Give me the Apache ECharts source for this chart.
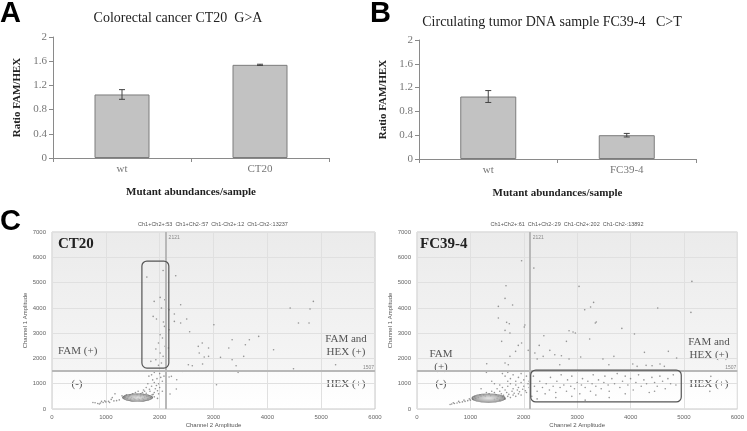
<!DOCTYPE html>
<html>
<head>
<meta charset="utf-8">
<script src="https://cdn.jsdelivr.net/npm/echarts@6/dist/echarts.min.js"></script>
<style>html,body{margin:0;padding:0;background:#fff}#c{width:747px;height:431px}</style>
</head>
<body>
<div id="c"></div>
<script>
// ---------- data ----------
const catsA = ['wt', 'CT20'];
const valsA = [1.05, 1.54];
const errA = [0.08, 0.01];
const catsB = ['wt', 'FC39-4'];
const valsB = [1.05, 0.40];
const errB = [0.10, 0.03];

const headerCT20 = 'Ch1+Ch2+:53  Ch1+Ch2-:57  Ch1-Ch2+:12  Ch1-Ch2-:13237';
const headerFC = 'Ch1+Ch2+:61  Ch1+Ch2-:29  Ch1-Ch2+:202  Ch1-Ch2-:13892';
const thresholdX = 2121;
const thresholdY = 1507;

// droplets [Channel 2 amplitude, Channel 1 amplitude]
const dropsCT20 = [
[1762,5217],[2064,5480],[2298,5270],[2009,4414],[1898,4256],[2095,4321],[2033,3992],[2175,3926],[2390,4124],
[2273,3755],[1879,3663],[1941,3557],[2070,3439],[2273,3465],[2502,3557],[2390,3400],[2089,3267],[2175,3136],
[2557,3057],[2009,2938],[2052,2806],[2113,2740],[1978,2609],[2101,2477],[1929,2372],[2163,2411],[2009,2213],
[2064,2082],[1929,1950],[2033,1818],[1836,1884],[2113,1752],[1978,1726],[3007,3333],[2717,2477],[2791,2609],
[2908,2411],[2735,2213],[2828,2055],[2908,2082],[2533,1752],[2606,1713],[2797,1779],[3130,2042],[3284,2411],
[3346,2740],[3592,2543],[3666,2740],[3839,2872],[3561,2082],[3346,1950],[3420,1713],[3457,1450],[4116,2345],
[4424,3992],[4578,3400],[4775,3400],[4793,3953],[4855,4256],[4486,1594],[5268,1752],[2175,1265],[2218,1291],
[2317,1159],[2421,1489],[2193,593],[2310,790],[3056,962],
[1800,1300],[1850,1350],[1900,1450],[1950,1200],[2000,1400],[2050,1100],[2080,1300],[1980,1000],[1900,1050],
[1850,900],[1920,800],[2000,850],[1780,1000],[1750,850],[1700,750],[1820,700],[1900,650],[2050,700],[1980,600],
[1680,650],[1600,700],[1650,600],[1700,550],[1750,620],[1550,650],[1500,600],[1450,560],[1380,560],[1300,520],
[1350,500],[1420,480],[1480,450],[1520,420],[1560,470],[1600,430],[1640,480],[1680,420],[1720,460],[1760,500],
[1800,520],[1830,450],[1860,560],[1780,400],[1700,380],[1620,370],[1540,380],[1460,390],[1400,420],[1340,440],
[1250,360],[1200,330],[1150,320],[1100,380],[1050,300],[1000,280],[950,260],[900,240],[850,220],[800,250],
[760,260],[880,200],[980,320],[1070,260],[1120,450],[1170,600],[920,300],[1870,1150],[1940,930],[2020,1250],
[1720,700],[1810,780],[1880,580],[1960,720],[1650,520],[1580,560],[1900,480],[1960,420],[1440,520],[1360,460]
];
const dropsFC = [
[1959,5863],[2189,5573],[1667,4875],[1649,4374],[1791,4111],[1524,4058],[1524,3597],[1679,3426],[1729,3373],
[2021,3320],[2009,3241],[1649,3109],[1741,3004],[3035,4848],[3141,3926],[3252,4032],[3308,4216],[3358,3439],
[3340,3399],[3837,3188],[4073,2964],[4509,3992],[5131,3821],[5149,5046],[2923,3043],[2966,3004],[2848,3096],
[2799,2675],[3234,2767],[2376,2898],[2289,2516],[2208,2213],[2251,1976],[2363,2082],[2488,2319],[2581,2148],
[2705,2108],[2848,1976],[2674,1752],[3066,2055],[3483,1976],[3688,2082],[3594,1752],[4260,2240],[4042,1779],
[4123,1686],[4291,1726],[4403,1713],[4552,1779],[4633,1686],[4708,2279],[4863,2016],[1847,2279],[1741,2082],
[1649,1818],[1710,1752],[1306,1792],[1586,2675],[2083,2319],[1897,2516],[1959,2609],
[2200,900],[2250,700],[2300,1100],[2350,850],[2400,600],[2420,1000],[2480,750],[2500,1250],[2550,900],[2600,650],
[2620,1100],[2680,850],[2700,1350],[2750,950],[2800,700],[2820,1150],[2880,900],[2900,1300],[2950,800],[3000,1050],
[3050,600],[3080,950],[3100,1200],[3150,850],[3200,1100],[3250,700],[3280,1000],[3300,1350],[3350,900],[3400,1150],
[3450,800],[3500,1050],[3520,1300],[3580,950],[3600,700],[3650,1200],[3700,1000],[3750,1400],[3800,850],[3850,1100],
[3900,1300],[3950,950],[4000,1200],[4050,750],[4100,1050],[4150,1350],[4200,900],[4250,1150],[4300,1000],[4350,650],
[4400,1250],[4450,1050],[4500,900],[4550,1300],[4600,1100],[4650,800],[4700,1200],[4750,1000],[4800,1350],[4850,950],
[2150,500],[2250,400],[2600,450],[3350,550],[3900,600],[4450,700],[2180,1300],[2900,500],[3600,450],[3150,350],
[5485,698],[5504,1291],
[1600,1400],[1650,1300],[1700,1450],[1750,1200],[1800,1350],[1850,1100],[1900,1250],[1950,1400],[2000,1150],
[2050,1300],[2080,1000],[2000,900],[1950,1050],[1900,850],[1850,950],[1800,800],[1750,1000],[1700,900],[1650,750],
[1600,850],[1550,700],[1500,800],[1450,650],[1400,700],[1350,600],[1300,650],[1250,550],[1200,500],[1150,450],
[1100,420],[1050,380],[1000,350],[950,330],[900,300],[850,280],[800,260],[750,240],[700,220],[650,200],[620,180],
[680,250],[780,300],[880,350],[980,400],[1080,480],[1180,560],[1280,500],[1380,520],[1480,560],[1580,600],
[1680,650],[1780,700],[1880,750],[1980,780],[2050,650],[1900,600],[1800,550],[1700,500],[1600,480],[1500,420],
[1450,380],[1550,350],[1650,400],[1750,450],[1850,500],[1950,550],[2100,850],[2100,1100],[1450,1000],[1300,1450],
[1400,1100],[1700,1100],[1550,950],[1200,800],[2030,720],[1920,680],[1820,620],[1720,580],[1620,540],[1520,500]
];
// dense negative-droplet cluster centres
const clusterCT20 = [[1590, 450]];
const clusterFC = [[1340, 430]];
// highlighted boxes [x1, y1, x2, y2]
const boxCT20 = [[1670, 1620, 2170, 5850]];
const boxFC = [[2130, 280, 4950, 1540]];

// ---------- helpers ----------
const serif = 'Liberation Serif';
const sans = 'Liberation Sans';

function barX(gi, cats) {
  return {
    gridIndex: gi, type: 'category', data: cats,
    axisLine: {lineStyle: {color: '#8a8a8a'}},
    axisTick: {show: true, length: 4, lineStyle: {color: '#8a8a8a'}},
    axisLabel: {fontFamily: serif, fontSize: 11, color: '#777', margin: 6},
    name: 'Mutant abundances/sample', nameLocation: 'middle', nameGap: 29,
    nameTextStyle: {fontFamily: serif, fontWeight: 'bold', fontSize: 11, color: '#222'}
  };
}
function barY(gi) {
  return {
    gridIndex: gi, type: 'value', min: 0, max: 2, interval: 0.4,
    axisLine: {show: true, lineStyle: {color: '#8a8a8a'}},
    axisTick: {show: true, length: 4, lineStyle: {color: '#8a8a8a'}},
    splitLine: {show: false},
    axisLabel: {fontFamily: serif, fontSize: 11, color: '#777', margin: 6},
    name: 'Ratio FAM/HEX', nameLocation: 'middle', nameGap: 30,
    nameTextStyle: {fontFamily: serif, fontWeight: 'bold', fontSize: 11, color: '#222'}
  };
}
function scX(gi) {
  return {
    gridIndex: gi, type: 'value', min: 0, max: 6000, interval: 1000,
    axisLine: {show: false}, axisTick: {show: false},
    splitLine: {show: true, lineStyle: {color: '#e0e0e0', width: 1}},
    axisLabel: {fontFamily: sans, fontSize: 6, color: '#666', margin: 5, formatter: v => String(v)},
    name: 'Channel 2 Amplitude', nameLocation: 'middle', nameGap: 13,
    nameTextStyle: {fontFamily: sans, fontSize: 6, color: '#555'}
  };
}
function scY(gi) {
  return {
    gridIndex: gi, type: 'value', min: 0, max: 7000, interval: 1000,
    axisLine: {show: false}, axisTick: {show: false},
    splitLine: {show: true, lineStyle: {color: '#e0e0e0', width: 1}},
    axisLabel: {fontFamily: sans, fontSize: 6, color: '#666', margin: 6, formatter: v => String(v)},
    name: 'Channel 1 Amplitude', nameLocation: 'middle', nameGap: 20,
    nameTextStyle: {fontFamily: sans, fontSize: 6, color: '#555'}
  };
}
const bgGrad = new echarts.graphic.LinearGradient(0, 0, 0, 1, [
  {offset: 0, color: '#ebebeb'}, {offset: 0.78, color: '#f5f5f5'}, {offset: 0.79, color: '#fbfbfb'}, {offset: 1, color: '#ffffff'}
]);
function errSeries(xi, vals, errs) {
  return {
    type: 'custom', xAxisIndex: xi, yAxisIndex: xi, z: 5,
    data: vals.map((v, i) => [i, v, errs[i]]),
    renderItem: function (params, api) {
      const i = api.value(0), v = api.value(1), e = api.value(2);
      const top = api.coord([i, v + e]);
      const bot = api.coord([i, v - e]);
      const w = 3;
      const st = {stroke: '#444', lineWidth: 1};
      return {type: 'group', children: [
        {type: 'line', shape: {x1: top[0], y1: top[1], x2: bot[0], y2: bot[1]}, style: st},
        {type: 'line', shape: {x1: top[0] - w, y1: top[1], x2: top[0] + w, y2: top[1]}, style: st},
        {type: 'line', shape: {x1: bot[0] - w, y1: bot[1], x2: bot[0] + w, y2: bot[1]}, style: st}
      ]};
    }
  };
}
function boxSeries(xi, boxes) {
  return {
    type: 'custom', xAxisIndex: xi, yAxisIndex: xi, z: 6, silent: true,
    data: boxes,
    renderItem: function (params, api) {
      const p1 = api.coord([api.value(0), api.value(3)]);
      const p2 = api.coord([api.value(2), api.value(1)]);
      return {type: 'rect', shape: {x: p1[0], y: p1[1], width: p2[0] - p1[0], height: p2[1] - p1[1], r: 5},
        style: {fill: 'none', stroke: '#555', lineWidth: 1.2}};
    }
  };
}
function scatterSeries(xi, drops) {
  return {
    type: 'scatter', xAxisIndex: xi, yAxisIndex: xi, data: drops, symbolSize: 1.6, z: 3,
    itemStyle: {color: '#7a7a7a'}, silent: true,
    markLine: {
      silent: true, symbol: 'none', animation: false,
      lineStyle: {color: '#b8b8b8', width: 2, type: 'solid'},
      label: {fontFamily: sans, fontSize: 5, color: '#888'},
      data: [
        {xAxis: thresholdX, label: {formatter: String(thresholdX), position: 'end', distance: -8, offset: [8, 0]}},
        {yAxis: thresholdY, label: {formatter: String(thresholdY), position: 'insideEndTop', distance: 1}}
      ]
    }
  };
}
function clusterSeries(xi, pts, size) {
  return {
    type: 'scatter', xAxisIndex: xi, yAxisIndex: xi, data: pts, symbol: 'circle', symbolSize: size, z: 4, silent: true,
    itemStyle: {
      color: new echarts.graphic.RadialGradient(0.5, 0.5, 0.5, [
        {offset: 0, color: '#e0e0e0'}, {offset: 0.6, color: '#a8a8a8'}, {offset: 1, color: '#777'}
      ]),
      borderColor: '#666', borderWidth: 0.6
    }
  };
}
function txt(x, y, text, font, fill, align, va, rot) {
  return {type: 'text', x: x, y: y, rotation: rot || 0, silent: true,
    style: {text: text, font: font, fill: fill || '#000', align: align || 'left', verticalAlign: va || 'middle'}};
}

const chart = echarts.init(document.getElementById('c'), null, {renderer: 'canvas'});
chart.setOption({
  animation: false,
  grid: [
    {left: 53, top: 37, width: 276, height: 121},
    {left: 419, top: 40, width: 277, height: 119},
    {left: 52, top: 232, width: 323, height: 177, show: true, backgroundColor: bgGrad, borderColor: '#c8c8c8', borderWidth: 1},
    {left: 417, top: 232, width: 321, height: 177, show: true, backgroundColor: bgGrad, borderColor: '#c8c8c8', borderWidth: 1}
  ],
  xAxis: [barX(0, catsA), barX(1, catsB), scX(2), scX(3)],
  yAxis: [barY(0), barY(1), scY(2), scY(3)],
  series: [
    {type: 'bar', xAxisIndex: 0, yAxisIndex: 0, data: valsA, barWidth: 55,
      itemStyle: {color: '#c2c2c2', borderColor: '#7c7c7c', borderWidth: 1}},
    errSeries(0, valsA, errA),
    {type: 'bar', xAxisIndex: 1, yAxisIndex: 1, data: valsB, barWidth: 56,
      itemStyle: {color: '#c2c2c2', borderColor: '#7c7c7c', borderWidth: 1}},
    errSeries(1, valsB, errB),
    scatterSeries(2, dropsCT20),
    clusterSeries(2, clusterCT20, [30, 8]),
    boxSeries(2, boxCT20),
    scatterSeries(3, dropsFC),
    clusterSeries(3, clusterFC, [33, 9]),
    boxSeries(3, boxFC)
  ],
  graphic: [
    txt(0, 14, 'A', 'bold 29px "Liberation Sans"', '#000'),
    txt(370, 14, 'B', 'bold 29px "Liberation Sans"', '#000'),
    txt(0, 222, 'C', 'bold 29px "Liberation Sans"', '#000'),
    txt(178, 18, 'Colorectal cancer CT20  G>A', '14px "Liberation Serif"', '#222', 'center'),
    txt(552, 22, 'Circulating tumor DNA sample FC39-4   C>T', '14px "Liberation Serif"', '#222', 'center'),
    txt(213, 224, headerCT20, '5.5px "Liberation Sans"', '#555', 'center'),
    txt(567, 224, headerFC, '5.5px "Liberation Sans"', '#555', 'center'),
    txt(58, 244, 'CT20', 'bold 15px "Liberation Serif"', '#222'),
    txt(420, 244, 'FC39-4', 'bold 15px "Liberation Serif"', '#222'),
    txt(58, 351, 'FAM (+)', '11px "Liberation Serif"', '#555'),
    txt(77, 384, '(-)', '11px "Liberation Serif"', '#555', 'center'),
    txt(346, 339, 'FAM and', '11px "Liberation Serif"', '#555', 'center'),
    txt(346, 352, 'HEX (+)', '11px "Liberation Serif"', '#555', 'center'),
    txt(346, 384, 'HEX (+)', '11px "Liberation Serif"', '#555', 'center'),
    txt(441, 354, 'FAM', '11px "Liberation Serif"', '#555', 'center'),
    txt(441, 367, '(+)', '11px "Liberation Serif"', '#555', 'center'),
    txt(441, 384, '(-)', '11px "Liberation Serif"', '#555', 'center'),
    txt(709, 342, 'FAM and', '11px "Liberation Serif"', '#555', 'center'),
    txt(709, 355, 'HEX (+)', '11px "Liberation Serif"', '#555', 'center'),
    txt(709, 384, 'HEX (+)', '11px "Liberation Serif"', '#555', 'center')
  ]
});
</script>
</body>
</html>
